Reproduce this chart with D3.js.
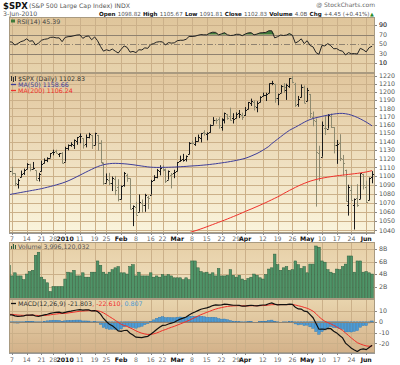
<!DOCTYPE html>
<html>
<head>
<meta charset="utf-8">
<script src="https://cdn.jsdelivr.net/npm/d3@7"></script>
<style>
  body { margin: 0; background: #fff; }
  svg { display: block; font-family: "DejaVu Sans", Verdana, sans-serif; }
</style>
</head>
<body>
<div id="chart"></div>
<script>
// trading days shown (Dec 4 2009 is cut by the left edge)
const dates = [
  "2009-12-04","2009-12-07","2009-12-08","2009-12-09","2009-12-10","2009-12-11","2009-12-14","2009-12-15","2009-12-16","2009-12-17","2009-12-18","2009-12-21","2009-12-22","2009-12-23","2009-12-24","2009-12-28","2009-12-29","2009-12-30","2009-12-31",
  "2010-01-04","2010-01-05","2010-01-06","2010-01-07","2010-01-08","2010-01-11","2010-01-12","2010-01-13","2010-01-14","2010-01-15","2010-01-19","2010-01-20","2010-01-21","2010-01-22","2010-01-25","2010-01-26","2010-01-27","2010-01-28","2010-01-29",
  "2010-02-01","2010-02-02","2010-02-03","2010-02-04","2010-02-05","2010-02-08","2010-02-09","2010-02-10","2010-02-11","2010-02-12","2010-02-16","2010-02-17","2010-02-18","2010-02-19","2010-02-22","2010-02-23","2010-02-24","2010-02-25","2010-02-26",
  "2010-03-01","2010-03-02","2010-03-03","2010-03-04","2010-03-05","2010-03-08","2010-03-09","2010-03-10","2010-03-11","2010-03-12","2010-03-15","2010-03-16","2010-03-17","2010-03-18","2010-03-19","2010-03-22","2010-03-23","2010-03-24","2010-03-25","2010-03-26","2010-03-29","2010-03-30","2010-03-31",
  "2010-04-01","2010-04-05","2010-04-06","2010-04-07","2010-04-08","2010-04-09","2010-04-12","2010-04-13","2010-04-14","2010-04-15","2010-04-16","2010-04-19","2010-04-20","2010-04-21","2010-04-22","2010-04-23","2010-04-26","2010-04-27","2010-04-28","2010-04-29","2010-04-30",
  "2010-05-03","2010-05-04","2010-05-05","2010-05-06","2010-05-07","2010-05-10","2010-05-11","2010-05-12","2010-05-13","2010-05-14","2010-05-17","2010-05-18","2010-05-19","2010-05-20","2010-05-21","2010-05-24","2010-05-25","2010-05-26","2010-05-27","2010-05-28",
  "2010-06-01","2010-06-02","2010-06-03"
];

const open = [
  1100.4,1105.5,1103.0,1091.1,1098.7,1103.0,1107.8,1114.1,1108.6,1106.4,1097.9,1105.3,1114.5,1118.8,1121.1,1127.5,1128.6,1125.5,1126.6,
  1116.6,1132.7,1135.7,1136.3,1140.5,1146.0,1143.8,1137.3,1145.7,1147.7,1136.0,1147.9,1138.7,1115.5,1092.4,1095.8,1091.9,1096.9,1087.6,
  1073.9,1090.1,1100.7,1097.3,1064.1,1065.5,1060.1,1069.7,1067.1,1076.0,1079.1,1096.1,1099.0,1105.5,1110.0,1107.5,1095.9,1101.2,1103.1,
  1105.4,1117.0,1119.4,1119.1,1125.1,1138.4,1137.6,1140.2,1144.0,1151.7,1148.5,1150.8,1159.9,1166.1,1166.7,1157.3,1166.5,1172.7,1170.0,1167.6,1167.7,1173.8,1171.8,
  1171.2,1178.7,1186.0,1188.2,1181.8,1187.5,1194.9,1195.9,1198.7,1210.8,1210.2,1192.1,1199.0,1207.2,1202.5,1207.9,1217.1,1209.9,1184.6,1193.3,1206.8,
  1188.6,1197.5,1169.2,1164.4,1127.0,1122.3,1156.4,1155.4,1170.0,1157.2,1136.5,1138.5,1119.6,1107.3,1067.3,1084.8,1067.4,1075.5,1074.3,1102.6,
  1087.3,1073.0,1098.82
];
const high = [
  1119.1,1110.7,1103.0,1097.0,1106.3,1108.5,1114.8,1114.1,1116.2,1106.4,1103.7,1117.7,1120.3,1121.6,1126.5,1130.4,1130.4,1126.4,1127.6,
  1133.9,1136.6,1139.2,1142.5,1145.4,1149.7,1143.8,1148.4,1150.4,1147.8,1150.5,1147.9,1141.6,1115.5,1103.0,1103.7,1099.5,1100.2,1096.5,
  1089.4,1104.7,1102.7,1097.3,1067.1,1071.2,1079.3,1073.7,1080.0,1077.8,1095.7,1101.0,1108.2,1112.4,1112.3,1108.6,1106.4,1103.5,1107.2,
  1116.1,1123.5,1125.6,1123.7,1139.4,1141.1,1145.4,1148.3,1150.2,1153.4,1151.0,1160.3,1169.2,1167.8,1169.2,1167.8,1174.7,1173.0,1180.7,1173.9,1174.9,1177.8,1174.6,
  1181.4,1187.7,1191.8,1189.6,1188.6,1194.7,1199.2,1199.0,1210.7,1213.9,1210.2,1197.9,1208.6,1211.0,1210.3,1217.3,1219.8,1211.4,1195.1,1209.4,1208.0,
  1205.1,1197.5,1176.0,1167.6,1135.1,1163.9,1170.5,1172.9,1173.6,1157.2,1141.9,1148.7,1124.3,1107.3,1090.2,1090.0,1074.8,1090.8,1103.5,1102.6,
  1094.8,1098.4,1105.67
];
const low = [
  1096.5,1100.8,1088.6,1085.9,1098.7,1101.3,1107.8,1105.4,1107.9,1095.4,1093.9,1105.3,1114.5,1116.0,1121.1,1123.9,1126.2,1121.9,1114.8,
  1116.6,1129.7,1133.9,1131.3,1136.2,1138.0,1131.8,1133.2,1143.8,1131.4,1135.8,1129.3,1114.8,1090.2,1092.4,1089.9,1083.1,1078.5,1071.6,
  1073.9,1088.0,1093.5,1062.8,1044.5,1056.5,1060.1,1059.3,1060.1,1063.0,1079.1,1094.7,1097.5,1100.8,1105.4,1092.2,1095.9,1086.0,1097.6,
  1105.4,1116.5,1116.6,1116.7,1125.1,1136.8,1134.9,1140.1,1139.0,1147.0,1141.5,1150.4,1159.9,1161.2,1155.3,1152.9,1161.6,1166.0,1165.1,1161.5,1167.7,1168.0,1165.8,
  1170.7,1178.7,1182.8,1177.3,1175.1,1187.2,1194.7,1188.8,1198.7,1208.5,1186.8,1183.7,1199.0,1198.9,1190.2,1205.1,1211.1,1181.6,1181.8,1193.3,1186.3,
  1188.6,1168.1,1158.2,1065.8,1094.2,1122.3,1147.7,1155.4,1156.1,1126.1,1114.0,1117.2,1100.7,1071.6,1055.9,1072.7,1040.8,1065.6,1074.3,1084.8,
  1069.9,1072.9,1091.81
];
const close = [
  1105.98,1103.25,1091.94,1095.95,1102.35,1106.41,1114.11,1107.93,1109.18,1096.08,1102.47,1114.05,1118.02,1120.59,1126.48,1127.78,1126.20,1126.42,1115.10,
  1132.99,1136.52,1137.14,1141.69,1144.98,1146.98,1136.22,1145.68,1148.46,1136.03,1150.23,1138.04,1116.48,1091.76,1096.78,1092.17,1097.50,1084.53,1073.87,
  1089.19,1103.32,1097.28,1063.11,1066.19,1056.74,1070.52,1068.13,1078.47,1075.51,1094.87,1099.51,1106.75,1109.17,1108.01,1094.60,1105.24,1102.94,1104.49,
  1115.71,1118.31,1118.79,1122.97,1138.70,1138.50,1140.45,1145.61,1150.24,1149.99,1150.51,1159.46,1166.21,1165.83,1159.90,1165.81,1174.17,1167.72,1165.73,1166.59,1173.22,1173.27,1169.43,
  1178.10,1187.44,1189.44,1182.45,1186.44,1194.37,1196.48,1197.30,1210.65,1211.67,1192.13,1197.52,1207.17,1205.94,1208.67,1217.28,1212.05,1183.71,1191.36,1206.78,1186.69,
  1202.26,1173.60,1165.87,1128.15,1110.88,1159.73,1155.79,1171.67,1157.44,1135.68,1136.94,1120.80,1115.05,1071.59,1087.69,1073.65,1074.03,1067.95,1103.06,1089.41,
  1070.71,1098.38,1102.83
];

// volume in billions of shares
const volume = [
  5.4,3.7,4.2,3.7,3.7,3.1,4.0,4.4,4.6,7.0,7.5,3.5,3.1,2.6,1.2,2.0,2.0,2.0,2.0,
  3.2,4.3,4.2,4.6,3.7,3.7,4.2,3.5,3.5,4.3,4.3,6.1,5.4,4.3,4.0,4.3,4.7,5.0,5.2,
  4.2,4.2,4.0,5.2,5.5,3.7,4.3,3.7,3.7,3.7,4.2,3.5,3.7,3.5,3.9,3.7,3.9,3.7,3.4,
  3.4,3.4,3.1,3.4,3.1,6.1,6.1,5.0,4.4,4.2,4.3,4.0,4.2,3.7,4.9,3.7,3.7,3.8,4.7,3.8,3.5,3.8,3.2,
  3.0,3.3,3.5,4.0,3.8,3.4,3.2,3.9,4.8,5.0,7.2,5.5,4.6,5.0,5.2,4.6,4.7,6.1,5.5,4.9,5.2,
  4.2,5.6,5.6,8.5,8.3,6.1,5.9,4.7,4.3,4.1,4.8,4.7,5.2,5.6,6.9,6.9,4.3,6.1,6.1,4.3,
  4.4,4.2,4.0
];

const ma50 = [
  1079.0,1079.7,1080.3,1080.9,1081.5,1082.1,1082.7,1083.3,1083.9,1084.5,1085.1,1085.8,1086.6,1087.4,1088.2,1089.1,1090.0,1091.0,1092.0,
  1093.2,1094.5,1096.0,1097.6,1099.3,1101.0,1102.7,1104.4,1106.1,1107.7,1109.3,1110.8,1112.0,1113.0,1113.7,1114.2,1114.5,1114.6,1114.5,
  1114.3,1114.1,1113.8,1113.4,1113.0,1112.5,1112.0,1111.5,1111.0,1110.5,1110.2,1110.0,1109.9,1109.9,1110.0,1110.0,1110.1,1110.2,1110.3,
  1110.5,1110.7,1110.9,1111.1,1111.4,1111.6,1111.8,1112.0,1112.3,1112.6,1112.9,1113.3,1113.7,1114.1,1114.6,1115.1,1115.6,1116.1,1116.7,1117.3,1118.0,1118.7,1119.5,
  1120.4,1121.6,1123.0,1124.5,1126.0,1127.8,1129.8,1132.0,1134.3,1137.5,1140.2,1142.9,1145.6,1148.3,1150.9,1153.3,1155.3,1157.0,1159.0,1161.0,1163.0,
  1164.8,1166.3,1167.5,1168.5,1169.3,1170.1,1170.9,1171.6,1172.3,1172.9,1173.4,1173.7,1173.7,1173.3,1172.6,1171.6,1170.3,1168.8,1167.1,1165.2,
  1163.2,1161.0,1158.66
];

// MA(200) only reaches the panel from late February
const ma200From = "2010-02-19";
const ma200 = [
  1031.0,1031.6,1032.2,1032.7,1033.2,1033.7,
  1034.3,1035.0,1035.8,1036.6,1037.5,1038.4,1039.4,1040.4,1041.5,1042.6,1043.8,1045.0,1046.2,1047.4,1048.6,1049.8,1051.0,1052.3,1053.6,1054.9,1056.2,1057.6,1059.0,
  1060.4,1061.8,1063.1,1064.5,1065.9,1067.3,1068.8,1070.3,1071.8,1073.4,1075.0,1076.6,1078.2,1080.3,1082.0,1083.8,1085.5,1087.2,1088.8,1090.3,1091.7,
  1093.0,1094.2,1095.2,1096.1,1096.9,1097.6,1098.2,1098.8,1099.3,1099.8,1100.3,1100.7,1101.1,1101.5,1101.9,1102.3,1102.7,1103.1,1103.6,1104.1,
  1104.7,1105.4,1106.24
];

const rsi = [
  55,54,48,51,55,57,61,56,57,48,52,58,60,61,64,64.5,63,63,55,
  64,65.5,66,67.5,69,69.5,62,66,67,59,65,57,45,35,38,36,39.5,35,31,
  39,46,43,33,34.5,32,38,37.5,42,41,49,51,54,55,54.5,48,53,52,52.5,
  57,58,58,60,66,66,66.5,68.5,70,69.5,69.5,73,75,74.5,69.5,71.5,74,69.5,68,68.5,70.5,70.5,67.5,
  71,73.5,74,69.5,71,73.5,74,74.5,78,78,63,65.5,69,68,69,72,68.5,52,55.5,61,51,
  57,47,44,32,28.5,47,46,51,46.5,40,40.5,36.5,35,27,32,29.5,30,29,41,38,
  33.5,42.5,45.39
];

const macd = [
  6.5,6.4,5.5,5.1,5.2,5.5,6.3,6.3,6.4,5.4,5.1,5.7,6.4,7.0,7.8,8.4,8.7,8.9,8.1,
  8.8,9.5,9.9,10.5,11.0,11.4,10.8,11.0,11.1,10.1,10.4,9.6,7.1,3.1,0.3,-2.2,-3.7,-5.9,-8.4,
  -8.9,-8.1,-8.0,-10.6,-12.3,-14.3,-14.5,-14.7,-14.0,-13.5,-11.5,-9.4,-7.1,-5.0,-3.4,-3.2,-2.0,-1.2,-0.4,
  1.2,2.5,3.4,4.4,6.4,7.9,9.1,10.4,11.7,12.4,12.9,13.9,15.1,15.7,15.5,15.7,16.4,16.2,15.8,15.4,15.4,15.2,14.5,
  14.5,15.0,15.4,15.0,14.9,15.3,15.6,15.7,16.8,17.5,16.4,15.8,16.0,15.9,15.9,16.4,16.2,13.6,12.0,11.8,9.9,
  9.5,6.7,3.8,-1.5,-6.9,-6.7,-7.1,-6.1,-6.4,-8.7,-10.3,-12.7,-14.9,-19.8,-22.1,-24.6,-26.2,-27.6,-25.7,-25.2,
  -25.9,-23.8,-21.803
];
const signal = [
  7.0,6.9,6.6,6.3,6.1,6.0,6.0,6.1,6.2,6.0,5.8,5.8,5.9,6.1,6.5,6.9,7.2,7.6,7.7,
  7.9,8.2,8.6,9.0,9.4,9.8,10.0,10.2,10.4,10.3,10.3,10.2,9.6,8.3,6.7,4.9,3.2,1.4,-0.6,
  -2.3,-3.4,-4.3,-5.6,-6.9,-8.4,-9.6,-10.6,-11.3,-11.8,-11.7,-11.2,-10.4,-9.3,-8.1,-7.2,-6.1,-5.1,-4.2,
  -3.1,-2.0,-0.9,0.2,1.4,2.7,4.0,5.3,6.6,7.7,8.8,9.8,10.9,11.8,12.6,13.2,13.8,14.3,14.6,14.8,14.9,15.0,14.9,
  14.8,14.8,14.9,15.0,14.9,15.0,15.1,15.2,15.6,15.9,16.0,16.0,16.0,16.0,16.0,16.0,16.1,15.6,14.9,14.3,13.4,
  12.6,11.4,9.9,7.6,4.7,2.4,0.5,-0.8,-1.9,-3.3,-4.7,-6.3,-8.0,-10.4,-12.7,-15.1,-17.3,-19.4,-20.6,-21.6,
  -22.4,-22.7,-22.61
];
const hist = [
  -0.5,-0.5,-1.1,-1.2,-0.9,-0.5,0.3,0.2,0.2,-0.6,-0.7,-0.1,0.5,0.9,1.3,1.5,1.5,1.3,0.4,
  0.9,1.3,1.3,1.5,1.6,1.6,0.8,0.8,0.7,-0.2,0.1,-0.6,-2.5,-5.2,-6.4,-7.1,-6.9,-7.3,-7.8,
  -6.6,-4.7,-3.7,-5.0,-5.4,-5.9,-4.9,-4.1,-2.7,-1.7,0.2,1.8,3.3,4.3,4.7,4.0,4.1,3.9,3.8,
  4.3,4.5,4.3,4.2,5.0,5.2,5.1,5.1,5.1,4.7,4.1,4.1,4.2,3.9,2.9,2.5,2.6,1.9,1.2,0.6,0.5,0.2,-0.4,
  -0.3,0.2,0.5,0.0,0.0,0.3,0.5,0.5,1.2,1.6,0.4,-0.2,0.0,-0.1,-0.1,0.4,0.1,-2.0,-2.9,-2.5,-3.5,
  -3.1,-4.7,-6.1,-9.1,-11.6,-9.1,-7.6,-5.3,-4.5,-5.4,-5.6,-6.4,-6.9,-9.4,-9.4,-9.5,-8.9,-8.2,-5.1,-3.6,
  -3.5,-1.1,0.807
];

const rsiTicks = [90, 70, 50, 30, 10];
const priceTicks = [1040,1050,1060,1070,1080,1090,1100,1110,1120,1130,1140,1150,1160,1170,1180,1190,1200,1210,1220];
const volTicks = [8, 6, 4, 2];
const volTickLabels = ["8B", "6B", "4B", "2B"];
const macdTicks = [10, 0, -10, -20];
const dateTicks = [
  ["2009-12-07","7"],["2009-12-14","14"],["2009-12-21","21"],["2009-12-28","28"],["2010-01-04","2010"],
  ["2010-01-11","11"],["2010-01-19","19"],["2010-01-25","25"],["2010-02-01","Feb"],["2010-02-08","8"],
  ["2010-02-16","16"],["2010-02-22","22"],["2010-03-01","Mar"],["2010-03-08","8"],["2010-03-15","15"],
  ["2010-03-22","22"],["2010-03-29","29"],["2010-04-01","Apr"],["2010-04-12","12"],["2010-04-19","19"],
  ["2010-04-26","26"],["2010-05-03","May"],["2010-05-10","10"],["2010-05-17","17"],["2010-05-24","24"],["2010-06-01","Jun"]
];
const monthLabels = ["2010", "Feb", "Mar", "Apr", "May", "Jun"];

// header quote: [text, bold]
const quoteParts = [
  ["Open", true], ["1098.82", false], ["High", true], ["1105.67", false], ["Low", true], ["1091.81", false],
  ["Close", true], ["1102.83", false], ["Volume", true], ["4.0B", false], ["Chg", true], ["+4.45 (+0.41%)", false]
];

// ---- layout ----
const width = 400, height = 365;
const left = 9, right = 375;
const rsiBox = [17, 73], priceBox = [73, 233], volBox = [242, 299], macdBox = [299, 353];

const svg = d3.select("#chart").append("svg")
    .attr("width", width)
    .attr("height", height)
    .attr("viewBox", `0 0 ${width} ${height}`);

const defs = svg.append("defs");
function grad(id, top, bottom) {
    const g = defs.append("linearGradient").attr("id", id)
        .attr("x1", 0).attr("y1", 0).attr("x2", 0).attr("y2", 1);
    g.append("stop").attr("offset", "0%").attr("stop-color", top);
    g.append("stop").attr("offset", "100%").attr("stop-color", bottom);
}
grad("gRsi", "#dfc59b", "#e7d3ad");
grad("gPrice", "#e1c69d", "#faf4dc");
grad("gVol", "#e6cea5", "#f2e5c6");
grad("gMacd", "#e9d5ae", "#d3b189");

function clip(id, box) {
    defs.append("clipPath").attr("id", id)
        .append("rect").attr("x", left).attr("y", box[0])
        .attr("width", right - left).attr("height", box[1] - box[0]);
}
clip("cRsi", rsiBox); clip("cPrice", priceBox); clip("cVol", volBox); clip("cMacd", macdBox);

const x = d3.scalePoint().domain(dates).range([left, left + 2.952 * (dates.length - 1)]);
const yRsi = d3.scaleLinear().domain([-11, 107]).range([rsiBox[1], rsiBox[0]]);
const yPrice = d3.scaleLog().domain([1037.1, 1223.8]).range([priceBox[1], priceBox[0]]);
const yVol = d3.scaleLinear().domain([0, 9.14]).range([volBox[1], volBox[0]]);
const yMacd = d3.scaleLinear().domain([-29, 21.2]).range([macdBox[1], macdBox[0]]);

const px = v => Math.round(v) + 0.5;
const gridColor = "#cbb089";
const tickDates = dateTicks.map(d => d[0]);

function panel(box, fill, yScale, ticks, labels) {
    const g = svg.append("g");
    g.append("rect").attr("x", left).attr("y", box[0])
        .attr("width", right - left).attr("height", box[1] - box[0])
        .attr("fill", fill);
    g.selectAll(".vg").data(tickDates).join("line")
        .attr("x1", d => px(x(d))).attr("x2", d => px(x(d)))
        .attr("y1", box[0]).attr("y2", box[1])
        .attr("stroke", gridColor).attr("stroke-width", 1);
    g.selectAll(".hg").data(ticks).join("line")
        .attr("x1", left).attr("x2", right)
        .attr("y1", d => px(yScale(d))).attr("y2", d => px(yScale(d)))
        .attr("stroke", gridColor).attr("stroke-width", 1);
    // right axis
    g.selectAll(".tk").data(ticks).join("line")
        .attr("x1", right).attr("x2", right + 2)
        .attr("y1", d => px(yScale(d))).attr("y2", d => px(yScale(d)))
        .attr("stroke", "#888");
    g.selectAll(".tl").data(ticks).join("text")
        .attr("x", right + 4).attr("y", d => yScale(d) + 2.3)
        .attr("font-size", 6.3).attr("fill", "#555")
        .text((d, i) => labels ? labels[i] : d);
    return g;
}

// ---- header ----
const head = svg.append("g");
head.append("text").attr("x", 3).attr("y", 8.5).attr("font-size", 8.5)
    .attr("font-weight", "bold").attr("fill", "#111").text("$SPX");
head.append("text").attr("x", 29).attr("y", 8).attr("font-size", 6.2)
    .attr("fill", "#555").text("(S&P 500 Large Cap Index) INDX");
head.append("text").attr("x", 375).attr("y", 6.5).attr("text-anchor", "end")
    .attr("font-size", 6).attr("fill", "#666").text("@ StockCharts.com");
head.append("text").attr("x", 3).attr("y", 15.8).attr("font-size", 6.2)
    .attr("fill", "#555").text("3-Jun-2010");

// quote line: lay pieces out one after another, then fit 99..368
const qg = head.append("g");
const qEls = quoteParts.map(([t, b]) => qg.append("text")
    .attr("y", 15.8).attr("font-size", 6.2)
    .attr("font-weight", b ? "bold" : "normal")
    .attr("fill", b ? "#111" : "#555").text(t));
const qW = qEls.map(e => e.node().getComputedTextLength());
const gap = 2.2;
const natural = d3.sum(qW) + gap * (qW.length - 1);
const k = 268 / natural;
let qx = 99;
qEls.forEach((e, i) => {
    e.attr("font-size", 6.2 * k).attr("x", qx);
    qx += qW[i] * k + gap;
});
head.append("text").attr("x", 370).attr("y", 15.8).attr("font-size", 5)
    .attr("fill", "#2a8a2a").text("\u25B2");

// ---- RSI ----
panel(rsiBox, "url(#gRsi)", yRsi, [90, 10]);
const rsiG = svg.append("g").attr("clip-path", "url(#cRsi)");
rsiG.append("path").datum(rsi)
    .attr("fill", "#3f7a3a")
    .attr("d", d3.area().x((d, i) => x(dates[i])).y0(yRsi(70)).y1(d => yRsi(Math.max(d, 70))));
[70, 30].forEach(v => rsiG.append("line").attr("x1", left).attr("x2", right)
    .attr("y1", px(yRsi(v))).attr("y2", px(yRsi(v))).attr("stroke", "#8f8270"));
rsiG.append("line").attr("x1", left).attr("x2", right)
    .attr("y1", px(yRsi(50))).attr("y2", px(yRsi(50)))
    .attr("stroke", "#8f8270").attr("stroke-dasharray", "6,2,1,2");
rsiG.append("path").datum(rsi)
    .attr("fill", "none").attr("stroke", "#222").attr("stroke-width", 1)
    .attr("d", d3.line().x((d, i) => x(dates[i])).y(d => yRsi(d)));
svg.selectAll(".rsil").data(rsiTicks).join("text")
    .attr("x", right + 4).attr("y", d => yRsi(d) + 2.3)
    .attr("font-size", 6.3).attr("fill", "#555").text(d => d);
svg.append("rect").attr("x", 11).attr("y", 19.5).attr("width", 4).attr("height", 3).attr("fill", "#3f7a3a");
svg.append("text").attr("x", 17).attr("y", 23.5).attr("font-size", 6.3)
    .attr("fill", "#444").text("RSI(14) 45.39");

// ---- price ----
panel(priceBox, "url(#gPrice)", yPrice, priceTicks);
const pG = svg.append("g").attr("clip-path", "url(#cPrice)");
const bars = dates.map((d, i) => ({
    date: d, o: open[i], h: high[i], l: low[i], c: close[i],
    up: i === 0 ? close[i] >= open[i] : close[i] >= close[i - 1]
}));
const barColor = b => b.up ? "#1a1a1a" : "#8d8a70";
pG.selectAll(".hl").data(bars).join("line")
    .attr("x1", b => px(x(b.date))).attr("x2", b => px(x(b.date)))
    .attr("y1", b => yPrice(b.h)).attr("y2", b => yPrice(b.l))
    .attr("stroke", barColor);
pG.selectAll(".op").data(bars).join("line")
    .attr("x1", b => px(x(b.date)) - 1.5).attr("x2", b => px(x(b.date)))
    .attr("y1", b => px(yPrice(b.o))).attr("y2", b => px(yPrice(b.o)))
    .attr("stroke", barColor);
pG.selectAll(".cl").data(bars).join("line")
    .attr("x1", b => px(x(b.date))).attr("x2", b => px(x(b.date)) + 1.5)
    .attr("y1", b => px(yPrice(b.c))).attr("y2", b => px(yPrice(b.c)))
    .attr("stroke", barColor);
pG.append("path").datum(ma50)
    .attr("fill", "none").attr("stroke", "#3d3d9a").attr("stroke-width", 1)
    .attr("d", d3.line().x((d, i) => x(dates[i])).y(d => yPrice(d)));
const off200 = dates.indexOf(ma200From);
pG.append("path").datum(ma200)
    .attr("fill", "none").attr("stroke", "#f0302a").attr("stroke-width", 1)
    .attr("d", d3.line().x((d, i) => x(dates[i + off200])).y(d => yPrice(d)));
svg.append("line").attr("x1", left).attr("x2", right).attr("y1", 73.5).attr("y2", 73.5).attr("stroke", "#a48c6a");

const leg = svg.append("g").attr("font-size", 6.3);
leg.append("path").attr("d", "M11.5,76v5M13.5,77v5M15.5,76v5").attr("stroke", "#333");
leg.append("text").attr("x", 18).attr("y", 81).attr("fill", "#333").text("$SPX (Daily) 1102.83");
leg.append("line").attr("x1", 11).attr("x2", 16).attr("y1", 84.5).attr("y2", 84.5).attr("stroke", "#3d3d9a").attr("stroke-width", 1.3);
leg.append("text").attr("x", 18).attr("y", 86.8).attr("fill", "#3d3d9a").text("MA(50) 1158.66");
leg.append("line").attr("x1", 11).attr("x2", 16).attr("y1", 90.5).attr("y2", 90.5).attr("stroke", "#f0302a").attr("stroke-width", 1.3);
leg.append("text").attr("x", 18).attr("y", 92.8).attr("fill", "#f0302a").text("MA(200) 1106.24");

// ---- date axes ----
function dateAxis(yTop, yLabel) {
    const g = svg.append("g");
    g.append("line").attr("x1", left).attr("x2", right).attr("y1", yTop + 0.5).attr("y2", yTop + 0.5).attr("stroke", "#999");
    g.selectAll("line.t").data(dateTicks).join("line")
        .attr("x1", d => px(x(d[0]))).attr("x2", d => px(x(d[0])))
        .attr("y1", yTop).attr("y2", yTop + 2).attr("stroke", "#888");
    g.selectAll("text").data(dateTicks).join("text")
        .attr("x", d => x(d[0])).attr("y", yLabel)
        .attr("text-anchor", "middle").attr("font-size", 6.2)
        .attr("font-weight", d => monthLabels.includes(d[1]) ? "bold" : "normal")
        .attr("fill", d => monthLabels.includes(d[1]) ? "#111" : "#666")
        .text(d => d[1]);
}
dateAxis(priceBox[1], 241);
dateAxis(macdBox[1], 362);

// ---- volume ----
panel(volBox, "url(#gVol)", yVol, volTicks, volTickLabels);
const vG = svg.append("g").attr("clip-path", "url(#cVol)");
vG.selectAll("rect").data(volume).join("rect")
    .attr("x", (d, i) => x(dates[i]) - 1.3).attr("width", 2.6)
    .attr("y", d => yVol(d)).attr("height", d => yVol(0) - yVol(d))
    .attr("fill", "#4f9468").attr("stroke", "#2e5f3e").attr("stroke-width", 0.5);
svg.append("path").attr("d", "M11.5,249v-3M13.5,249v-5M15.5,249v-4").attr("stroke", "#2e5f3e");
svg.append("text").attr("x", 18).attr("y", 249).attr("font-size", 6.3)
    .attr("fill", "#555").text("Volume 3,996,120,032");

// ---- MACD ----
panel(macdBox, "url(#gMacd)", yMacd, macdTicks);
const mG = svg.append("g").attr("clip-path", "url(#cMacd)");
mG.selectAll("rect").data(hist).join("rect")
    .attr("x", (d, i) => x(dates[i]) - 1.3).attr("width", 2.6)
    .attr("y", d => Math.min(yMacd(d), yMacd(0)))
    .attr("height", d => Math.abs(yMacd(d) - yMacd(0)))
    .attr("fill", "#4b9bd6").attr("stroke", "#3278b0").attr("stroke-width", 0.4);
mG.append("line").attr("x1", left).attr("x2", right)
    .attr("y1", px(yMacd(0))).attr("y2", px(yMacd(0))).attr("stroke", "#8f8270");
mG.append("path").datum(signal)
    .attr("fill", "none").attr("stroke", "#f0302a").attr("stroke-width", 1)
    .attr("d", d3.line().x((d, i) => x(dates[i])).y(d => yMacd(d)));
mG.append("path").datum(macd)
    .attr("fill", "none").attr("stroke", "#111").attr("stroke-width", 1.2)
    .attr("d", d3.line().x((d, i) => x(dates[i])).y(d => yMacd(d)));
svg.append("line").attr("x1", 11).attr("x2", 16).attr("y1", 303.5).attr("y2", 303.5).attr("stroke", "#111").attr("stroke-width", 1.3);
const mt = svg.append("text").attr("x", 18).attr("y", 306).attr("font-size", 6.3);
mt.append("tspan").attr("fill", "#333").text("MACD(12,26,9) -21.803");
mt.append("tspan").attr("fill", "#f0302a").text(", -22.610");
mt.append("tspan").attr("fill", "#4b9bd6").text(", 0.807");

// frames
[rsiBox, priceBox, volBox, macdBox].forEach(b => svg.append("rect")
    .attr("x", left + 0.5).attr("y", b[0] + 0.5)
    .attr("width", right - left - 1).attr("height", b[1] - b[0] - 1)
    .attr("fill", "none").attr("stroke", "#a99a80"));
</script>
</body>
</html>
